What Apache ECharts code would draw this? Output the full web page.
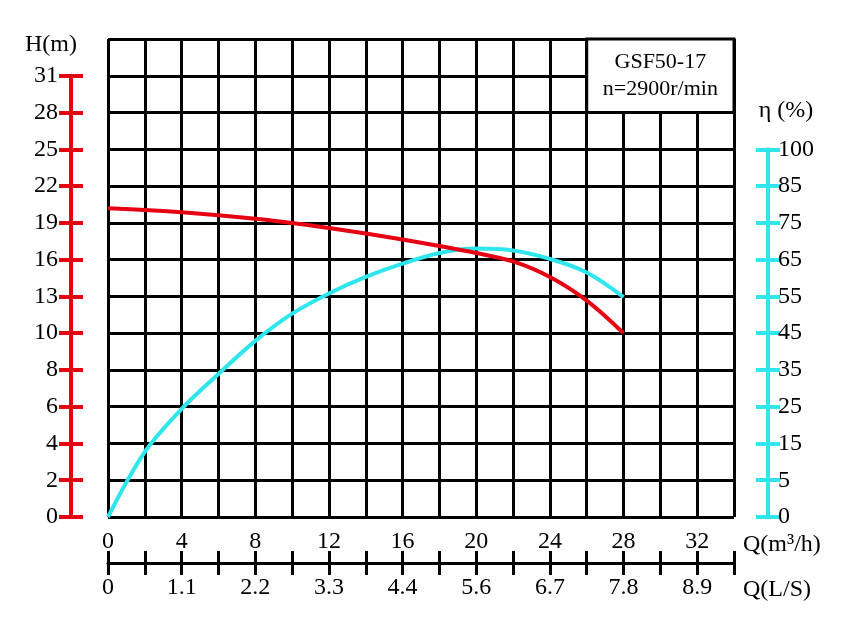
<!DOCTYPE html>
<html>
<head>
<meta charset="utf-8">
<script src="https://cdn.jsdelivr.net/npm/echarts@6/dist/echarts.min.js"></script>
<style>
html,body{margin:0;padding:0;background:#fff;}
#chart{width:864px;height:619px;}
</style>
</head>
<body>
<div id="chart"></div>
<script>
// ---- data ----
const flowQ   = [0, 2, 4, 6, 8, 10, 12, 14, 16, 18, 20, 22, 24, 26, 28];          // m3/h
const headH   = [20.19, 20.05, 19.86, 19.62, 19.33, 18.99, 18.58, 18.13, 17.64, 17.11, 16.54, 15.85, 14.58, 12.66, 10.0]; // m
const effEta  = [0, 12.7, 24.4, 33.9, 42.9, 50.3, 55.8, 60.3, 63.9, 66.8, 68.0, 67.5, 65.2, 61.5, 54.8]; // %
const hTicks   = [0, 2, 4, 6, 8, 10, 13, 16, 19, 22, 25, 28, 31];
const etaTicks = [0, 5, 15, 25, 35, 45, 55, 65, 75, 85, 100];
const qTickLabels  = ['0', '4', '8', '12', '16', '20', '24', '28', '32'];
const lsTickLabels = ['0', '1.1', '2.2', '3.3', '4.4', '5.6', '6.7', '7.8', '8.9'];
const modelName = 'GSF50-17';
const speedText = 'n=2900r/min';
const qName = 'Q(m³/h)';
const lsName = 'Q(L/S)';

// map a value onto the evenly spaced (non-linear) tick scale
function toRow(v, ticks) {
  for (let i = 1; i < ticks.length; i++) {
    if (v <= ticks[i]) return (i - 1) + (v - ticks[i - 1]) / (ticks[i] - ticks[i - 1]);
  }
  return ticks.length - 1;
}

const FONT = "'Liberation Serif', 'DejaVu Serif', serif";
const RED = '#e60012';
const CYAN = '#2fe6ec';
const G = {left: 108, top: 39, width: 626, height: 478};
const rowH = G.height / 13;
const LS_OFFSET = 46;

const chart = echarts.init(document.getElementById('chart'), null, {renderer: 'canvas'});
const txt = {fontFamily: FONT, fontSize: 24, color: '#000'};

const option = {
  animation: false,
  backgroundColor: '#fff',
  grid: [
    {left: G.left, top: G.top, width: G.width, height: G.height, outerBoundsMode: 'none'},
    {left: G.left, top: G.top + rowH, width: G.width, height: 12 * rowH, outerBoundsMode: 'none'},
    {left: G.left, top: G.top + 3 * rowH, width: G.width, height: 10 * rowH, outerBoundsMode: 'none'}
  ],
  graphic: [
    {type: 'text', x: G.left + G.width + 9, y: G.top + G.height + 28, silent: true,
     style: {text: qName, font: '24px ' + FONT, fill: '#000', verticalAlign: 'middle', align: 'left'}},
    {type: 'text', x: G.left + G.width + 9, y: G.top + G.height + LS_OFFSET + 27, silent: true,
     style: {text: lsName, font: '24px ' + FONT, fill: '#000', verticalAlign: 'middle', align: 'left'}}
  ],
  xAxis: [
    {gridIndex: 0, type: 'value', position: 'bottom', min: 0, max: 34, interval: 2,
     axisLine: {show: false, onZero: false}, axisTick: {show: false},
     splitLine: {show: true, lineStyle: {color: '#000', width: 3}},
     axisLabel: Object.assign({margin: 13, formatter: v => (v % 4 === 0 && qTickLabels[v / 4] !== undefined) ? qTickLabels[v / 4] : ''}, txt)},
    {gridIndex: 0, type: 'value', position: 'bottom', offset: LS_OFFSET, min: 0, max: 34, interval: 2,
     axisLine: {show: true, onZero: false, lineStyle: {color: '#000', width: 3}},
     axisTick: {show: true, inside: false, length: 12, lineStyle: {color: '#000', width: 3}},
     splitLine: {show: false},
     axisLabel: Object.assign({margin: 13, formatter: v => (v % 4 === 0 && lsTickLabels[v / 4] !== undefined) ? lsTickLabels[v / 4] : ''}, txt)},
    {gridIndex: 0, type: 'value', position: 'bottom', offset: LS_OFFSET, min: 0, max: 34, interval: 2,
     axisLine: {show: false, onZero: false},
     axisTick: {show: true, inside: true, length: 12, lineStyle: {color: '#000', width: 3}},
     splitLine: {show: false}, axisLabel: {show: false}},
    {gridIndex: 1, type: 'value', min: 0, max: 34, show: false},
    {gridIndex: 2, type: 'value', min: 0, max: 34, show: false}
  ],
  yAxis: [
    {gridIndex: 0, type: 'value', min: 0, max: 13, interval: 1,
     axisLine: {show: false, onZero: false}, axisTick: {show: false}, axisLabel: {show: false},
     splitLine: {show: true, lineStyle: {color: '#000', width: 3}}},
    {gridIndex: 1, type: 'value', position: 'left', offset: 37, min: 0, max: 12, interval: 1,
     axisLine: {show: true, onZero: false, lineStyle: {color: RED, width: 4}},
     axisTick: {show: true, inside: false, length: 12, lineStyle: {color: RED, width: 4}},
     splitLine: {show: false},
     axisLabel: Object.assign({margin: 13, formatter: v => hTicks[Math.round(v)] !== undefined ? String(hTicks[Math.round(v)]) : ''}, txt),
     name: 'H(m)', nameLocation: 'end', nameGap: 19,
     nameTextStyle: Object.assign({padding: [0, 40, 0, 0]}, txt)},
    {gridIndex: 1, type: 'value', position: 'left', offset: 37, min: 0, max: 12, interval: 1,
     axisLine: {show: false, onZero: false},
     axisTick: {show: true, inside: true, length: 12, lineStyle: {color: RED, width: 4}},
     splitLine: {show: false}, axisLabel: {show: false}},
    {gridIndex: 2, type: 'value', position: 'right', offset: 34, min: 0, max: 10, interval: 1,
     axisLine: {show: true, onZero: false, lineStyle: {color: CYAN, width: 4}},
     axisTick: {show: true, inside: false, length: 12, lineStyle: {color: CYAN, width: 4}},
     splitLine: {show: false},
     axisLabel: Object.assign({margin: 10, formatter: v => etaTicks[Math.round(v)] !== undefined ? String(etaTicks[Math.round(v)]) : ''}, txt),
     name: 'η (%)', nameLocation: 'end', nameGap: 27,
     nameTextStyle: Object.assign({padding: [0, 0, 0, 36]}, txt)},
    {gridIndex: 2, type: 'value', position: 'right', offset: 34, min: 0, max: 10, interval: 1,
     axisLine: {show: false, onZero: false},
     axisTick: {show: true, inside: true, length: 12, lineStyle: {color: CYAN, width: 4}},
     splitLine: {show: false}, axisLabel: {show: false}}
  ],
  series: [
    {type: 'line', name: 'box', xAxisIndex: 0, yAxisIndex: 0, data: [], symbol: 'none',
     markArea: {
       silent: true,
       itemStyle: {color: '#fff', borderColor: '#000', borderWidth: 3},
       label: {show: true, position: 'inside', formatter: modelName + '\n' + speedText,
               fontFamily: FONT, fontSize: 22, lineHeight: 27, color: '#000'},
       data: [[{coord: [26, 11]}, {coord: [34, 13]}]]
     }},
    {type: 'line', name: 'η', xAxisIndex: 4, yAxisIndex: 3, smooth: 0.35, symbol: 'none',
     lineStyle: {color: CYAN, width: 4},
     data: flowQ.map((q, i) => [q, toRow(effEta[i], etaTicks)])},
    {type: 'line', name: 'H', xAxisIndex: 3, yAxisIndex: 1, smooth: 0.35, symbol: 'none',
     lineStyle: {color: RED, width: 4},
     data: flowQ.map((q, i) => [q, toRow(headH[i], hTicks)])}
  ]
};
chart.setOption(option);
</script>
</body>
</html>
